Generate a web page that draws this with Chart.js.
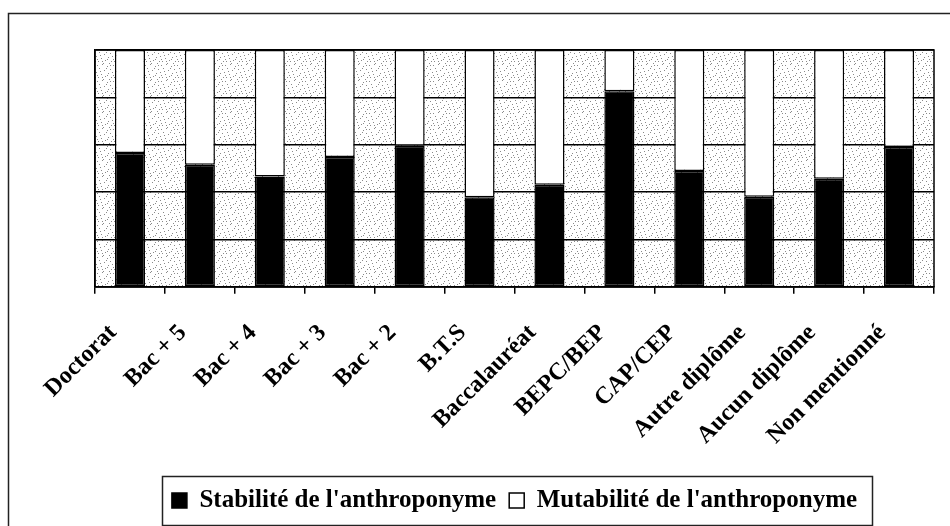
<!DOCTYPE html>
<html>
<head>
<meta charset="utf-8">
<script src="https://cdn.jsdelivr.net/npm/chart.js@4.4.0/dist/chart.umd.min.js"></script>
<style>
  html, body { margin: 0; padding: 0; background: #fff; }
</style>
</head>
<body>
<canvas id="chart" width="950" height="526"></canvas>
<script>
// values (percent of each group)
const categories = ['Doctorat', 'Bac + 5', 'Bac + 4', 'Bac + 3', 'Bac + 2', 'B.T.S', 'Baccalauréat',
    'BEPC/BEP', 'CAP/CEP', 'Autre diplôme', 'Aucun diplôme', 'Non mentionné'];
const stabilite = [56.5, 51.6, 46.6, 54.8, 59.6, 37.8, 43.1, 82.6, 48.9, 38.0, 45.6, 59.0];
const mutabilite = [43.5, 48.4, 53.4, 45.2, 40.4, 62.2, 56.9, 17.4, 51.1, 62.0, 54.4, 41.0];
const yTicks = [0, 20, 40, 60, 80, 100];

const serif = '"Liberation Serif", "Times New Roman", serif';

// stippled grey used as plot background (fixed dot layout)
const dots = document.createElement('canvas');
dots.width = 16;
dots.height = 16;
const dctx = dots.getContext('2d');
dctx.fillStyle = '#ffffff';
dctx.fillRect(0, 0, 16, 16);
dctx.fillStyle = '#8a8a8a';
[[1, 1], [6, 0], [11, 2], [14, 5], [3, 4], [8, 6], [0, 8], [12, 9], [5, 10], [9, 12],
 [2, 13], [15, 13], [7, 15], [13, 15], [4, 7], [10, 4], [1, 11], [14, 1], [6, 13], [11, 11]]
    .forEach(p => dctx.fillRect(p[0], p[1], 1, 1));

const framePlugin = {
    id: 'frame',
    beforeDraw(chart) {
        const { ctx, chartArea: a } = chart;
        ctx.save();
        ctx.fillStyle = ctx.createPattern(dots, 'repeat');
        ctx.fillRect(a.left, a.top, a.right - a.left, a.bottom - a.top);
        ctx.restore();
    },
    afterDraw(chart) {
        const { ctx, chartArea: a } = chart;
        ctx.save();
        ctx.strokeStyle = '#222';
        ctx.lineWidth = 1.5;
        ctx.beginPath();
        ctx.moveTo(8.5, 526);
        ctx.lineTo(8.5, 13.5);
        ctx.lineTo(950, 13.5);
        ctx.stroke();
        ctx.strokeStyle = '#000';
        ctx.strokeRect(a.left, a.top, a.right - a.left, a.bottom - a.top);
        // box round the legend
        const hb = chart.legend.legendHitBoxes;
        if (hb && hb.length) {
            const l = Math.min(...hb.map(b => b.left)) - 10;
            const r = Math.max(...hb.map(b => b.left + b.width)) + 15;
            const t = Math.min(...hb.map(b => b.top)) - 12;
            const btm = Math.max(...hb.map(b => b.top + b.height)) + 12;
            ctx.lineWidth = 1.5;
            ctx.strokeStyle = '#222';
            ctx.strokeRect(Math.round(l) + 0.5, Math.round(t) + 0.5, Math.round(r - l), Math.round(btm - t));
        }
        ctx.restore();
    }
};

const data = {
    labels: categories,
    datasets: [{
        label: "Stabilité de l'anthroponyme",
        data: stabilite,
        backgroundColor: '#000000',
        borderColor: '#000000',
        borderWidth: 1.5,
        borderSkipped: false
    }, {
        label: "Mutabilité de l'anthroponyme",
        data: mutabilite,
        backgroundColor: '#ffffff',
        borderColor: '#000000',
        borderWidth: 1.5,
        borderSkipped: false
    }]
};

const config = {
    type: 'bar',
    data: data,
    options: {
        responsive: false,
        animation: false,
        barPercentage: 0.43,
        categoryPercentage: 1.0,
        layout: {
            padding: { left: 95, right: 16, top: 50, bottom: 3 }
        },
        scales: {
            x: {
                stacked: true,
                grid: {
                    display: true,
                    drawOnChartArea: false,
                    drawTicks: true,
                    tickLength: 7,
                    color: '#000',
                    lineWidth: 1.5,
                    offset: true
                },
                border: { display: true, color: '#000', width: 1.5 },
                ticks: {
                    color: '#000',
                    autoSkip: false,
                    maxRotation: 45,
                    minRotation: 45,
                    padding: 25,
                    labelOffset: -17,
                    font: { family: serif, size: 24, weight: 'bold' }
                }
            },
            y: {
                stacked: true,
                min: 0,
                max: 100,
                afterBuildTicks: scale => {
                    scale.ticks = yTicks.map(v => ({ value: v }));
                },
                ticks: { display: false },
                grid: { color: '#000', lineWidth: 1.5, drawTicks: false },
                border: { display: true, color: '#000', width: 1.5 }
            }
        },
        plugins: {
            legend: {
                position: 'bottom',
                fullSize: false,
                labels: {
                    boxWidth: 15,
                    boxHeight: 15,
                    color: '#000',
                    padding: 13,
                    font: { family: serif, size: 25, weight: 'bold' }
                }
            },
            tooltip: { enabled: false }
        }
    },
    plugins: [framePlugin]
};

const chart = new Chart(document.getElementById('chart'), config);
</script>
</body>
</html>
